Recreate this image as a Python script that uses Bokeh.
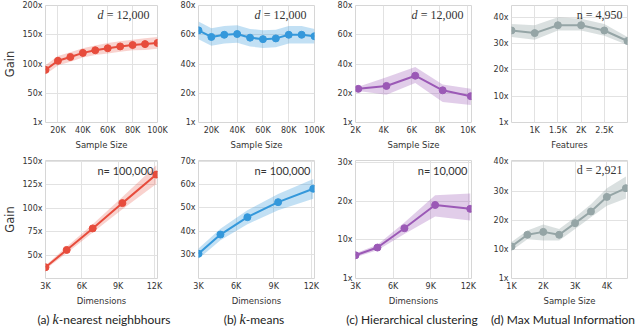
from bokeh.plotting import figure
from bokeh.layouts import column, row
from bokeh.models import FixedTicker, Label, Div, Range1d
from bokeh.embed import file_html
from bokeh.resources import INLINE

# ---------------- data ----------------
# (a) k-nearest neighbours
knn_top_x = [10000, 20000, 30000, 40000, 50000, 60000, 70000, 80000, 90000, 100000]
knn_top_y = [90, 105.5, 112, 119, 123.5, 127, 130, 132.5, 134, 136]
knn_top_lo = [82, 97.5, 104, 111, 115.5, 118, 121, 123.5, 124, 126]
knn_top_hi = [98, 113.5, 120, 127, 131.5, 136, 139, 141.5, 144, 146]
knn_bot_x = [3000, 4750, 6900, 9350, 12150]
knn_bot_y = [37, 55.5, 78.5, 105.5, 136]
knn_bot_lo = [35, 52, 74, 99, 126]
knn_bot_hi = [39, 59, 83, 112, 146]

# (b) k-means
km_top_x = [10000, 20000, 30000, 40000, 50000, 60000, 70000, 80000, 90000, 100000]
km_top_y = [63, 58.5, 60, 60.5, 58, 57, 57.5, 60, 60, 59]
km_top_lo = [57, 52.5, 54, 54.5, 52, 51, 51.5, 54, 54, 54]
km_top_hi = [69, 64.5, 66, 66.5, 64, 63, 63.5, 66, 66, 64]
km_bot_x = [3000, 4750, 6900, 9350, 12150]
km_bot_y = [30.2, 38.5, 46, 52.5, 58.3]
km_bot_lo = [28, 36, 43, 49, 54]
km_bot_hi = [32.5, 41, 49, 56, 62.5]

# (c) hierarchical clustering
hc_top_x = [2200, 4200, 6250, 8200, 10200]
hc_top_y = [23, 25, 32, 22, 18]
hc_top_lo = [21.5, 19, 27, 14, 12]
hc_top_hi = [24.5, 31, 38, 26, 23]
hc_bot_x = [3000, 4750, 6900, 9350, 12150]
hc_bot_y = [6, 8, 13, 19, 18]
hc_bot_lo = [5.5, 7.3, 11.5, 16, 15]
hc_bot_hi = [6.5, 8.7, 14.5, 21.5, 22]

# (d) max mutual information
mmi_top_x = [500, 1000, 1500, 2000, 2500, 3000]
mmi_top_y = [35, 34, 37, 37, 35, 31]
mmi_top_lo = [32.5, 31.5, 35, 35, 33, 29.5]
mmi_top_hi = [37.5, 37, 40, 39.5, 37.5, 32.5]
mmi_bot_x = [1000, 1500, 2000, 2500, 3000, 3500, 4000, 4600]
mmi_bot_y = [11, 15, 16, 15, 19, 23, 28, 31]
mmi_bot_lo = [9.5, 13.5, 13, 13, 17, 21, 25, 27.5]
mmi_bot_hi = [12.5, 16.5, 18.5, 17, 21, 25.5, 31, 35]

# ticks and labels
sample_ticks = [20000, 40000, 60000, 80000, 100000]
sample_labels = ["20K", "40K", "60K", "80K", "100K"]
hc_sample_ticks = [2000, 4000, 6000, 8000, 10000]
hc_sample_labels = ["2K", "4K", "6K", "8K", "10K"]
feat_ticks = [1000, 1500, 2000, 2500]
feat_labels = ["1K", "1.5K", "2K", "2.5K"]
dim_ticks = [3000, 6000, 9000, 12000]
dim_labels = ["3K", "6K", "9K", "12K"]
mmi_sample_ticks = [1000, 2000, 3000, 4000]
mmi_sample_labels = ["1K", "2K", "3K", "4K"]

gain_a_top = [0, 50, 100, 150, 200]
gain_b_top = [0, 20, 40, 60, 80]
gain_d_top = [0, 10, 20, 30, 40]
gain_a_bot = [50, 75, 100, 125, 150]
gain_b_bot = [30, 40, 50, 60, 70]
gain_c_bot = [0, 10, 20, 30]
gain_d_bot = [0, 10, 20, 30, 40]

captions = ["(a) ", "(b) ", "(c) Hierarchical clustering", "(d) Max Mutual Information"]

RED, BLUE, PURPLE, GRAY = "#e74c3c", "#3498db", "#9b59b6", "#95a5a6"
FW = 116


def gain_label(v):
    return "1x" if v == 0 else f"{v}x"


def panel(xs, ys, lo, hi, color, xr, yr, xt, xl, yt, xlabel, ylabel,
          mbl, mbr, mbt, mbb, fh, alpha):
    p = figure(width=mbl + FW + mbr, height=mbt + fh + mbb, min_border_left=mbl,
               min_border_right=mbr, min_border_top=mbt, min_border_bottom=mbb,
               x_range=Range1d(*xr), y_range=Range1d(*yr),
               output_backend="svg", toolbar_location=None)
    p.outline_line_color = "#d6d6d6"
    p.outline_line_width = 1
    p.background_fill_color = "white"
    p.border_fill_color = "white"
    for g in (p.xgrid, p.ygrid):
        g.grid_line_color = "#e2e2e2"
        g.grid_line_width = 1
    p.xaxis.ticker = FixedTicker(ticks=xt)
    p.xaxis.major_label_overrides = {t: l for t, l in zip(xt, xl)}
    p.yaxis.ticker = FixedTicker(ticks=yt)
    p.yaxis.major_label_overrides = {t: gain_label(t) for t in yt}
    for ax in (p.xaxis, p.yaxis):
        ax.axis_line_color = None
        ax.major_tick_line_color = None
        ax.minor_tick_line_color = None
        ax.major_tick_out = 0
        ax.major_tick_in = 0
        ax.minor_tick_out = 0
        ax.minor_tick_in = 0
        ax.major_label_text_font = "DejaVu Sans"
        ax.major_label_text_font_size = "8px"
        ax.major_label_text_color = "#333333"
        ax.major_label_standoff = 3
        ax.axis_label_text_font = "DejaVu Sans"
        ax.axis_label_text_font_style = "normal"
        ax.axis_label_text_color = "#333333"
    p.xaxis.axis_label = xlabel
    p.xaxis.axis_label_text_font_size = "8.5px"
    p.xaxis.axis_label_standoff = 2
    if ylabel:
        p.yaxis.axis_label = ylabel
        p.yaxis.axis_label_text_font_size = "11.5px"
        p.yaxis.axis_label_standoff = 2
    p.varea(x=xs, y1=lo, y2=hi, fill_color=color, fill_alpha=alpha)
    p.line(xs, ys, line_color=color, line_width=2)
    p.scatter(xs, ys, size=7, fill_color=color, line_color=color)
    return p


def serif_note(p, xr, yr, parts):
    # parts: list of (text, italic, offset)
    for text, italic, off in parts:
        p.add_layout(Label(x=xr[1], y=yr[1], x_offset=off, y_offset=-2,
                           text=text, text_font="Liberation Serif",
                           text_font_size="12px",
                           text_font_style="italic" if italic else "normal",
                           text_color="#333333", text_align="right",
                           text_baseline="top"))


def sans_note(p, xr, yr, text):
    p.add_layout(Label(x=xr[1], y=yr[1], x_offset=-4, y_offset=-3,
                       text=text, text_font="Lato", text_font_size="11px",
                       text_color="#333333", text_align="right",
                       text_baseline="top"))


TOP = dict(mbt=5, mbb=31, fh=117)
BOT = dict(mbt=7, mbb=28, fh=120)
COL1 = dict(mbl=41, mbr=11)
COL2 = dict(mbl=30, mbr=11)
COL3 = dict(mbl=30, mbr=8)
COL4 = dict(mbl=32, mbr=3)
D_PARTS = [(" = 12,000", False, -5), ("d", True, -54)]

xr = (10000, 100000); yr = (0, 200)
a1 = panel(knn_top_x, knn_top_y, knn_top_lo, knn_top_hi, RED, xr, yr,
           sample_ticks, sample_labels, gain_a_top, "Sample Size", "Gain",
           alpha=0.25, **COL1, **TOP)
serif_note(a1, xr, yr, D_PARTS)

xr = (10000, 100000); yr = (0, 80)
b1 = panel(km_top_x, km_top_y, km_top_lo, km_top_hi, BLUE, xr, yr,
           sample_ticks, sample_labels, gain_b_top, "Sample Size", None,
           alpha=0.3, **COL2, **TOP)
serif_note(b1, xr, yr, D_PARTS)

xr = (2000, 10250); yr = (0, 80)
c1 = panel(hc_top_x, hc_top_y, hc_top_lo, hc_top_hi, PURPLE, xr, yr,
           hc_sample_ticks, hc_sample_labels, gain_b_top, "Sample Size", None,
           alpha=0.3, **COL3, **TOP)
serif_note(c1, xr, yr, D_PARTS)

xr = (500, 3000); yr = (0, 44.5)
d1 = panel(mmi_top_x, mmi_top_y, mmi_top_lo, mmi_top_hi, GRAY, xr, yr,
           feat_ticks, feat_labels, gain_d_top, "Features", None,
           alpha=0.35, **COL4, **TOP)
serif_note(d1, xr, yr, [("n = 4,950", False, -5)])

xr = (3000, 12250); yr = (25, 151)
a2 = panel(knn_bot_x, knn_bot_y, knn_bot_lo, knn_bot_hi, RED, xr, yr,
           dim_ticks, dim_labels, gain_a_bot, "Dimensions", "Gain",
           alpha=0.25, **COL1, **BOT)
sans_note(a2, xr, yr, "n= 100,000")

xr = (3000, 12250); yr = (19.5, 70.5)
b2 = panel(km_bot_x, km_bot_y, km_bot_lo, km_bot_hi, BLUE, xr, yr,
           dim_ticks, dim_labels, gain_b_bot, "Dimensions", None,
           alpha=0.3, **COL2, **BOT)
sans_note(b2, xr, yr, "n= 100,000")

xr = (3000, 12250); yr = (0, 30.5)
c2 = panel(hc_bot_x, hc_bot_y, hc_bot_lo, hc_bot_hi, PURPLE, xr, yr,
           dim_ticks, dim_labels, gain_c_bot, "Dimensions", None,
           alpha=0.3, **COL3, **BOT)
sans_note(c2, xr, yr, "n= 10,000")

xr = (1000, 4650); yr = (0, 40.5)
d2 = panel(mmi_bot_x, mmi_bot_y, mmi_bot_lo, mmi_bot_hi, GRAY, xr, yr,
           mmi_sample_ticks, mmi_sample_labels, gain_d_bot, "Sample Size", None,
           alpha=0.35, **COL4, **BOT)
serif_note(d2, xr, yr, [("d = 2,921", False, -5)])

kspan = "<i style=\"font-family:'Liberation Serif';font-size:14px;line-height:15px\">k</i>"
span_style = "position:absolute;top:4px;line-height:15px;transform:translateX(-50%)"
cap_html = (
    "<div style=\"position:relative;width:630px;height:23px;"
    "font-family:Lato;font-size:12px;color:#222;white-space:nowrap\">"
    f"<span style=\"left:104px;{span_style}\">{captions[0]}{kspan}-nearest neighbhours</span>"
    f"<span style=\"left:254px;{span_style}\">{captions[1]}{kspan}-means</span>"
    f"<span style=\"left:412px;{span_style}\">{captions[2]}</span>"
    f"<span style=\"left:563px;{span_style}\">{captions[3]}</span>"
    "</div>"
)
cap = Div(text=cap_html, width=630, height=23, margin=0)

layout = column(row(a1, b1, c1, d1), row(a2, b2, c2, d2), cap)
open("out.html", "w").write(file_html(layout, INLINE))
